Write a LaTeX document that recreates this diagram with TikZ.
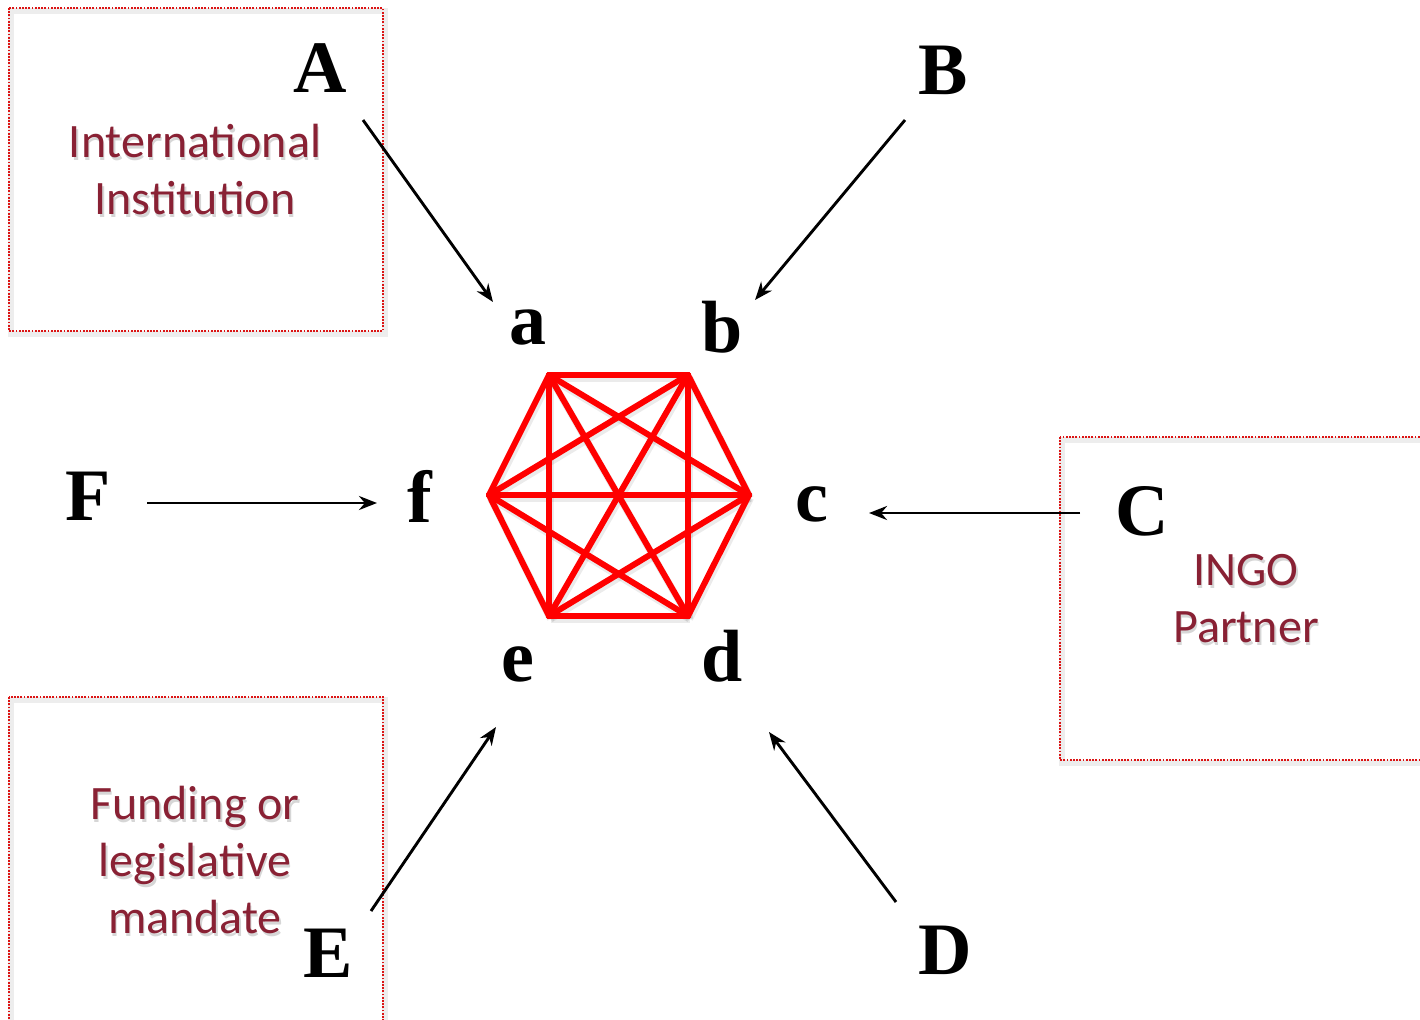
\documentclass[tikz,border=0pt]{standalone}
\usepackage{fontspec}
\setmainfont{Liberation Serif}
\newfontfamily\calib{Carlito}
\usetikzlibrary{arrows.meta}
\definecolor{boxred}{RGB}{220,20,20}
\definecolor{txtred}{RGB}{137,33,52}
\definecolor{hexred}{RGB}{255,0,0}
\tikzset{
  bigletter/.style={font=\fontsize{37}{40}\selectfont\bfseries, inner sep=0pt, anchor=base},
  dotbox/.style={draw=boxred, line width=0.9pt, dash pattern=on 0.9pt off 0.7pt},
  boxtext/.style={font=\calib\fontsize{24}{28.5}\selectfont, text=txtred, align=center, inner sep=0pt},
  boxshadow/.style={font=\calib\fontsize{24}{28.5}\selectfont, text=black, opacity=0.16, align=center, inner sep=0pt},
  link/.style={-{Stealth[length=9pt,width=7pt]}, line width=1.45pt},
  hexedge/.style={draw=hexred, line width=3pt, line cap=round, line join=round},
  hexshadow/.style={draw=black, opacity=0.08, line width=3.6pt}
}
\begin{document}
\begin{tikzpicture}[x=0.5pt,y=-0.5pt]
\useasboundingbox (0,0) rectangle (1420,1019);
\fill[white] (0,0) rectangle (1420,1019);
% boxes with light shadow
\foreach \x/\y/\X/\Y in {9/8/383/331, 1060/437/1440/760, 9/697/383/1040}{
  \draw[black, opacity=0.07, line width=3pt] (\x+2,\y+3) rectangle (\X+2,\Y+3);
  \draw[dotbox] (\x,\y) rectangle (\X,\Y);
}
% box texts
\node[boxshadow] at (196.5,172.5) {International\\Institution};
\node[boxtext] (t1) at (195,170) {International\\Institution};
\node[boxshadow] at (1247.5,601.5) {INGO\\Partner};
\node[boxtext] (t2) at (1246,599) {INGO\\Partner};
\node[boxshadow] at (196.5,862.5) {Funding or\\legislative\\mandate};
\node[boxtext] (t3) at (195,860) {Funding or\\legislative\\mandate};
% hexagon vertices
\coordinate (v1) at (549,375);
\coordinate (v2) at (688,375);
\coordinate (v3) at (749,495);
\coordinate (v4) at (688,616);
\coordinate (v5) at (549,616);
\coordinate (v6) at (489,495);
\foreach \i in {1,...,6}{
  \foreach \j in {1,...,6}{
    \ifnum\i<\j
      \draw[hexshadow] ([shift={(1.5,3)}]v\i) -- ([shift={(1.5,3)}]v\j);
    \fi
  }
}
\foreach \i in {1,...,6}{
  \foreach \j in {1,...,6}{
    \ifnum\i<\j
      \draw[hexedge] (v\i) -- (v\j);
    \fi
  }
}
% lower-case labels
\node[bigletter] (a) at (528,344) {a};
\node[bigletter] (b) at (722,352) {b};
\node[bigletter] (c) at (812,521) {c};
\node[bigletter] (d) at (722,681) {d};
\node[bigletter] (e) at (518,681) {e};
\node[bigletter] (f) at (420,522) {f};
% upper-case labels
\node[bigletter] (A) at (320,92) {A};
\node[bigletter] (B) at (943,94) {B};
\node[bigletter] (C) at (1142,535) {C};
\node[bigletter] (D) at (945,974) {D};
\node[bigletter] (E) at (328,977) {E};
\node[bigletter] (F) at (88,520) {F};
% arrow ends
\coordinate (A-out) at (363,120);  \coordinate (a-in) at (493,302);
\coordinate (B-out) at (905,120);  \coordinate (b-in) at (755,300);
\coordinate (C-out) at (1080,513); \coordinate (c-in) at (869,513);
\coordinate (D-out) at (896,902);  \coordinate (d-in) at (769,732);
\coordinate (E-out) at (371,911);  \coordinate (e-in) at (496,727);
\coordinate (F-out) at (147,503);  \coordinate (f-in) at (377,503);
\draw[link] (A-out) -- (a-in);
\draw[link] (B-out) -- (b-in);
\draw[link] (C-out) -- (c-in);
\draw[link] (D-out) -- (d-in);
\draw[link] (E-out) -- (e-in);
\draw[link] (F-out) -- (f-in);
\end{tikzpicture}
\end{document}
